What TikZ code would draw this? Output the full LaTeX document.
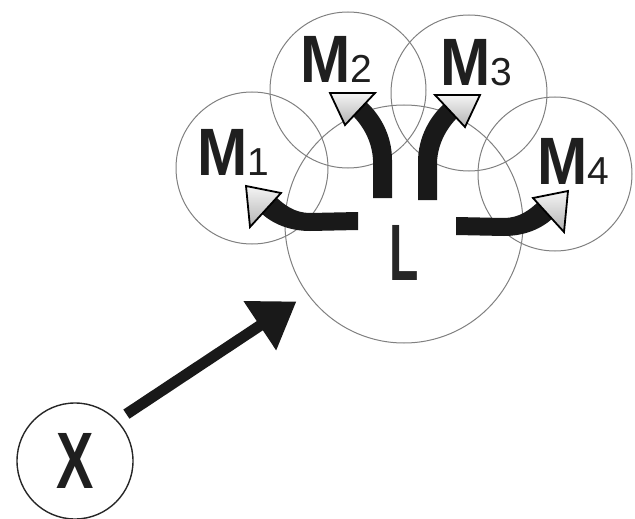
\documentclass[tikz,border=0pt]{standalone}
\usepackage{fontspec}
\setmainfont{Liberation Sans}
\usetikzlibrary{arrows.meta}
\begin{document}
\begin{tikzpicture}[x=1pt,y=-1pt,
  ring/.style={circle, draw=black!50, line width=1pt, inner sep=0pt},
  mlabel/.style={anchor=base west, inner sep=0pt, font=\fontsize{67}{67}\selectfont, text=black!88},
  shaft/.style={fill=black!90},
  head/.style={draw=black, line width=1.8pt, line join=miter, top color=gray!8, bottom color=gray!60},
  bigarrow/.style={line width=11pt, -{Triangle[length=44pt,width=56pt]}, draw=black!90}]
\newcommand{\emm}[1]{\scalebox{0.9}[1]{\bfseries M}{\fontsize{39}{39}\selectfont #1}}
\useasboundingbox (0,0) rectangle (635,519);
% circles
\node[ring, minimum size=152pt] (M1c) at (252,168) {};
\node[ring, minimum size=156pt] (M2c) at (348,90) {};
\node[ring, minimum size=156pt] (M3c) at (469,93) {};
\node[ring, minimum size=154pt] (M4c) at (555,174) {};
\node[ring, minimum size=238pt] (L) at (404,224) {};
\node[ring, minimum size=116pt, draw=black!85, line width=1.4pt, font=\fontsize{80}{80}\selectfont\bfseries, text=black!88] (X) at (75,461) {\scalebox{0.7}[1]{X}};
% labels
\node[mlabel] (M1t) at (197,175) {\emm{1}};
\node[mlabel] (M2t) at (300,83) {\emm{2}};
\node[mlabel] (M3t) at (440,85) {\emm{3}};
\node[mlabel] (M4t) at (537,184) {\emm{4}};
\node[anchor=base west, inner sep=0pt, font=\fontsize{80}{80}\selectfont\bfseries, text=black!85] (Lt) at (389,280) {\scalebox{0.6}[1]{L}};
% X -> L
\draw[bigarrow, shorten <=11pt, shorten >=13pt] (X.44) -- (L.216);
% L -> M2
\fill[shaft] (373,198) -- (373,160) .. controls (372,140) and (362,124) .. (350,113) -- (364,100) .. controls (380,114) and (392,135) .. (392,160) -- (392,198) -- cycle;
\path[head] (330,93) -- (375,93) -- (345,125) -- cycle;
% L -> M3
\fill[shaft] (437,200) -- (437,162) .. controls (438,142) and (448,126) .. (460,115) -- (446,102) .. controls (430,116) and (418,137) .. (418,162) -- (418,200) -- cycle;
\path[head] (480,95) -- (435,95) -- (465,127) -- cycle;
% L -> M1
\fill[shaft] (358,212) -- (310,213) .. controls (295,213) and (284,205) .. (275,196) -- (260,212) .. controls (272,224) and (290,231) .. (310,231) -- (358,230) -- cycle;
\path[head] (246,186) -- (281,193) -- (250,227) -- cycle;
% L -> M4
\fill[shaft] (456,217) -- (504,218) .. controls (519,218) and (530,210) .. (539,201) -- (554,217) .. controls (542,229) and (524,236) .. (504,236) -- (456,235) -- cycle;
\path[head] (568,191) -- (533,198) -- (564,232) -- cycle;
\end{tikzpicture}
\end{document}
